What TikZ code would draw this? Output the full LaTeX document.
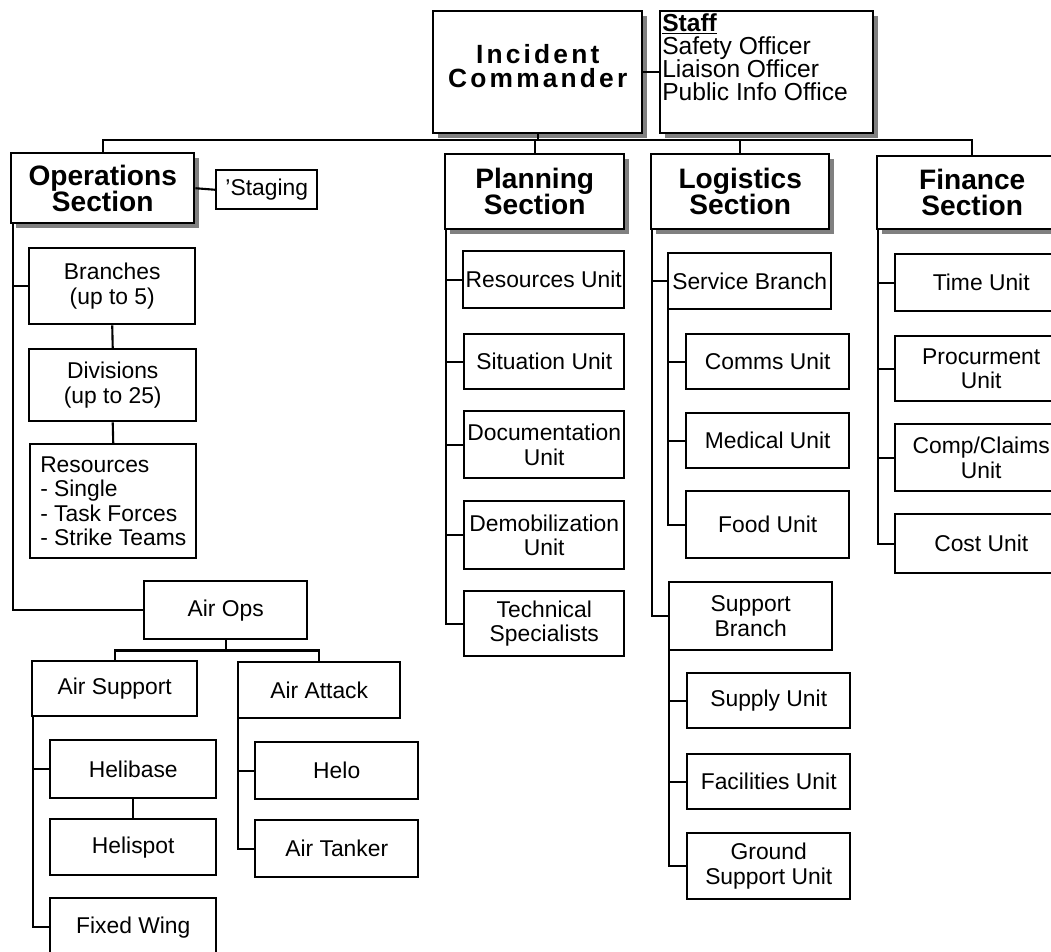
\documentclass[tikz,border=0pt]{standalone}
\usepackage{fontspec}
\setmainfont{Liberation Sans}
\newfontfamily\icfamily[LetterSpace=12]{Liberation Sans}
\usetikzlibrary{calc,shadows}

\begin{document}
\begin{tikzpicture}[x=0.02cm, y=-0.02cm]
  \def\px{0.02cm}
  \tikzset{
    orgbox/.style={draw, line width=1.4pt, fill=white, inner sep=1pt, align=center,
                   anchor=north west, font=\fontsize{13}{14}\selectfont},
    headbox/.style={orgbox, font=\fontsize{16}{15}\selectfont\bfseries,
                    drop shadow={shadow xshift=0.1cm, shadow yshift=-0.1cm,
                                 fill=black!50, opacity=1}},
    boxsize/.style 2 args={minimum width={#1*\px}, minimum height={#2*\px}},
    link/.style={line width=1.2pt},
  }
  \useasboundingbox (0,0) rectangle (1051,951);
  \clip (0,0) rectangle (1051,951);

  %--- Command and staff ---
  \node[headbox, boxsize={209}{122}, inner sep=0.04cm] (ic) at (432,10)
    {\parbox[c][2.36cm][t]{4.1cm}{\centering\icfamily\fontsize{15}{14}\selectfont\bfseries
      \vspace*{0.62cm}Incident\\Commander}};
  \node[headbox, boxsize={213}{122}, inner sep=0.04cm] (staff) at (659,10)
    {\parbox[c][2.36cm][t]{4.18cm}{\raggedright\mdseries\fontsize{14}{13.2}\selectfont
      \underline{\textbf{Staff}}\\Safety Officer\\Liaison Officer\\Public Info Office}};

  %--- Sections ---
  \node[headbox, boxsize={183}{70}] (ops)       at (10,152)  {Operations\\Section};
  \node[headbox, boxsize={179}{75}] (planning)  at (444,153) {Planning\\Section};
  \node[headbox, boxsize={178}{75}] (logistics) at (650,153) {Logistics\\Section};
  \node[headbox, boxsize={190}{73}] (finance)   at (876,155) {Finance\\Section};

  %--- Operations ---
  \node[orgbox, boxsize={101}{39}]  (staging)   at (215,169) {'Staging};
  \node[orgbox, boxsize={166}{76}]  (branches)  at (28,247)  {Branches\\(up to 5)};
  \node[orgbox, boxsize={167}{72}]  (divisions) at (28,348)  {Divisions\\(up to 25)};
  \node[orgbox, boxsize={166}{114}, align=left] (resources) at (29,443)
    {Resources\\- Single\\- Task Forces\\- Strike Teams};
  \node[orgbox, boxsize={163}{58}]  (airops)     at (143,580) {Air Ops};
  \node[orgbox, boxsize={165}{55}]  (airsupport) at (31,660)  {Air Support};
  \node[orgbox, boxsize={162}{56}]  (airattack)  at (237,661) {Air Attack};
  \node[orgbox, boxsize={166}{58}]  (helibase)   at (49,739)  {Helibase};
  \node[orgbox, boxsize={166}{56}]  (helispot)   at (49,818)  {Helispot};
  \node[orgbox, boxsize={166}{58}]  (fixedwing)  at (49,897)  {Fixed Wing};
  \node[orgbox, boxsize={163}{57}]  (helo)       at (254,741) {Helo};
  \node[orgbox, boxsize={163}{57}]  (airtanker)  at (254,819) {Air Tanker};

  %--- Planning ---
  \node[orgbox, boxsize={161}{57}] (resunit)   at (462,250) {Resources Unit};
  \node[orgbox, boxsize={160}{55}] (situnit)   at (463,333) {Situation Unit};
  \node[orgbox, boxsize={160}{67}] (docunit)   at (463,410) {Documentation\\Unit};
  \node[orgbox, boxsize={160}{68}] (demobunit) at (463,500) {Demobilization\\Unit};
  \node[orgbox, boxsize={160}{65}] (techspec)  at (463,590) {Technical\\Specialists};

  %--- Logistics ---
  \node[orgbox, boxsize={163}{56}] (servbranch) at (667,252) {Service Branch};
  \node[orgbox, boxsize={163}{55}] (comms)      at (685,333) {Comms Unit};
  \node[orgbox, boxsize={163}{55}] (medical)    at (685,412) {Medical Unit};
  \node[orgbox, boxsize={163}{67}] (food)       at (685,490) {Food Unit};
  \node[orgbox, boxsize={163}{68}] (suppbranch) at (668,581) {Support\\Branch};
  \node[orgbox, boxsize={163}{55}] (supply)     at (686,672) {Supply Unit};
  \node[orgbox, boxsize={163}{55}] (facilities) at (686,753) {Facilities Unit};
  \node[orgbox, boxsize={163}{66}] (ground)     at (686,832) {Ground\\Support Unit};

  %--- Finance ---
  \node[orgbox, boxsize={172}{57}] (timeunit)   at (894,253) {Time Unit};
  \node[orgbox, boxsize={172}{65}] (procure)    at (894,335) {Procurment\\Unit};
  \node[orgbox, boxsize={172}{67}] (compclaims) at (894,423) {Comp/Claims\\Unit};
  \node[orgbox, boxsize={172}{59}] (costunit)   at (894,513) {Cost Unit};

  %--- Top bus ---
  \coordinate (bus) at (0,140);
  \draw[link] (ic.east) -- (staff.west);
  \draw[link] (ops.north) |- (bus -| finance.north) -- (finance.north);
  \draw[link] (ic.south) -- (ic.south |- bus);
  \draw[link] (planning.north) -- (planning.north |- bus);
  \draw[link] (logistics.north) -- (logistics.north |- bus);

  %--- Operations links ---
  \coordinate (opspine) at ($(ops.south west)+(3,0)$);
  \draw[link] (ops.east) -- (staging.west);
  \draw[link] (opspine) |- (airops.west);
  \draw[link] (opspine |- branches.west) -- (branches.west);
  \draw[link] (branches.south) -- (divisions.north);
  \draw[link] (divisions.south) -- (resources.north);
  \coordinate (airbus) at ($(airops.south)+(0,10)$);
  \draw[link] (airops.south) -- (airbus);
  \draw[link] (airsupport.north) |- (airbus) -| (airattack.north);
  \coordinate (supspine) at ($(airsupport.south west)+(2,0)$);
  \draw[link] (supspine) |- (fixedwing.west);
  \draw[link] (supspine |- helibase.west) -- (helibase.west);
  \draw[link] (helibase.south) -- (helispot.north);
  \coordinate (atkspine) at ($(airattack.south west)+(1,0)$);
  \draw[link] (atkspine) |- (airtanker.west);
  \draw[link] (atkspine |- helo.west) -- (helo.west);

  %--- Planning links ---
  \coordinate (plspine) at ($(planning.south west)+(2,0)$);
  \draw[link] (plspine) |- (techspec.west);
  \foreach \n in {resunit,situnit,docunit,demobunit} { \draw[link] (plspine |- \n.west) -- (\n.west); }

  %--- Logistics links ---
  \coordinate (lgspine) at ($(logistics.south west)+(2,0)$);
  \draw[link] (lgspine) |- (suppbranch.west);
  \draw[link] (lgspine |- servbranch.west) -- (servbranch.west);
  \coordinate (svspine) at ($(servbranch.south west)+(1,0)$);
  \draw[link] (svspine) |- (food.west);
  \foreach \n in {comms,medical} { \draw[link] (svspine |- \n.west) -- (\n.west); }
  \coordinate (spspine) at ($(suppbranch.south west)+(1,0)$);
  \draw[link] (spspine) |- (ground.west);
  \foreach \n in {supply,facilities} { \draw[link] (spspine |- \n.west) -- (\n.west); }

  %--- Finance links ---
  \coordinate (fnspine) at ($(finance.south west)+(2,0)$);
  \draw[link] (fnspine) |- (costunit.west);
  \foreach \n in {timeunit,procure,compclaims} { \draw[link] (fnspine |- \n.west) -- (\n.west); }

\end{tikzpicture}
\end{document}
